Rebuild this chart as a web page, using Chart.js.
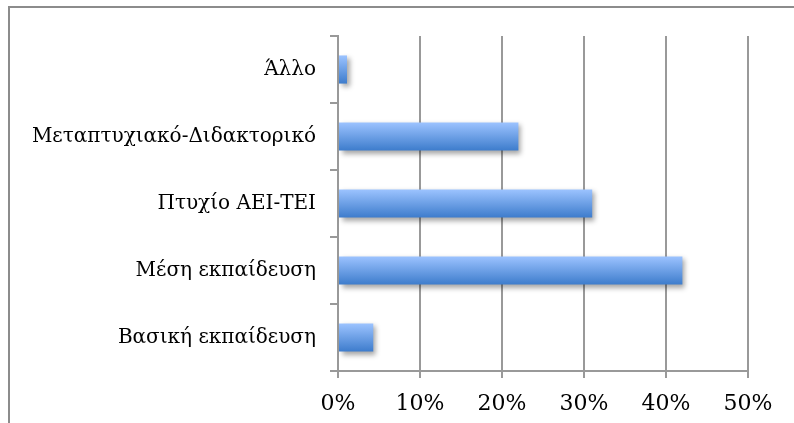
<!DOCTYPE html>
<html>
<head>
<meta charset="utf-8">
<script src="https://cdn.jsdelivr.net/npm/chart.js@4/dist/chart.umd.min.js"></script>
<style>
  html, body { margin: 0; padding: 0; background: #fff; }
  #wrap { position: relative; width: 794px; height: 423px; overflow: hidden; }
  #frame { position: absolute; left: 8px; top: 6px; width: 900px; height: 500px;
           border-left: 2px solid #8c8c8c; border-top: 2px solid #8c8c8c; }
  canvas { position: absolute; left: 0; top: 0; }
</style>
</head>
<body>
<div id="wrap">
  <div id="frame"></div>
  <canvas id="myChart" width="794" height="423"></canvas>
</div>
<script>
// CATEGORIES (top to bottom)
const categories = ['Άλλο', 'Μεταπτυχιακό-Διδακτορικό', 'Πτυχίο ΑΕΙ-ΤΕΙ', 'Μέση εκπαίδευση', 'Βασική εκπαίδευση'];
// PERCENT VALUES
const values = [1.1, 22, 31, 42, 4.3];
// X AXIS TICKS
const tickValues = [0, 10, 20, 30, 40, 50];

const serif = '"DejaVu Serif", "Liberation Serif", serif';
const gridGray = '#999999';
const barPct = 0.42;

// vertical gradient per bar, worked out from the y scale
function barGradient(context) {
    const chart = context.chart;
    const y = chart.scales.y;
    if (!y || context.dataIndex === undefined) return '#6a9fe6';
    const mid = y.getPixelForValue(context.dataIndex);
    const half = (y.height / categories.length) * barPct / 2;
    if (!isFinite(mid) || !isFinite(half) || half <= 0) return '#6a9fe6';
    const g = chart.ctx.createLinearGradient(0, mid - half, 0, mid + half);
    g.addColorStop(0, '#9cc3ff');
    g.addColorStop(1, '#3d7ccc');
    return g;
}

// drop shadow under the bars
const barShadow = {
    id: 'barShadow',
    beforeDatasetsDraw(chart) {
        const c = chart.ctx;
        c.save();
        c.shadowColor = 'rgba(0,0,0,0.35)';
        c.shadowBlur = 5;
        c.shadowOffsetX = 3;
        c.shadowOffsetY = 3;
    },
    afterDatasetsDraw(chart) {
        chart.ctx.restore();
    }
};

const ctx = document.getElementById('myChart').getContext('2d');
const chart = new Chart(ctx, {
    type: 'bar',
    data: {
        labels: categories,
        datasets: [{
            data: values,
            backgroundColor: barGradient,
            borderWidth: 0,
            categoryPercentage: 1,
            barPercentage: barPct
        }]
    },
    options: {
        indexAxis: 'y',
        responsive: false,
        animation: false,
        events: [],
        layout: { padding: { left: 0, top: 36, right: 46, bottom: 0 } },
        plugins: { legend: { display: false }, tooltip: { enabled: false } },
        scales: {
            x: {
                min: 0,
                max: 50,
                afterBuildTicks: scale => { scale.ticks = tickValues.map(v => ({ value: v })); },
                afterFit: scale => { scale.height = 52; },
                grid: { color: gridGray, lineWidth: 2, tickLength: 7, drawTicks: true },
                border: { color: gridGray, width: 2 },
                ticks: {
                    color: '#000',
                    font: { family: serif, size: 22 },
                    padding: 13,
                    callback: v => v + '%'
                }
            },
            y: {
                afterFit: scale => { scale.width = 338; },
                grid: { drawOnChartArea: false, color: gridGray, lineWidth: 2, tickLength: 8, offset: true },
                border: { color: gridGray, width: 2 },
                ticks: {
                    color: '#000',
                    font: { family: serif, size: 20 },
                    padding: 14
                }
            }
        }
    },
    plugins: [barShadow]
});
chart.update();
</script>
</body>
</html>
